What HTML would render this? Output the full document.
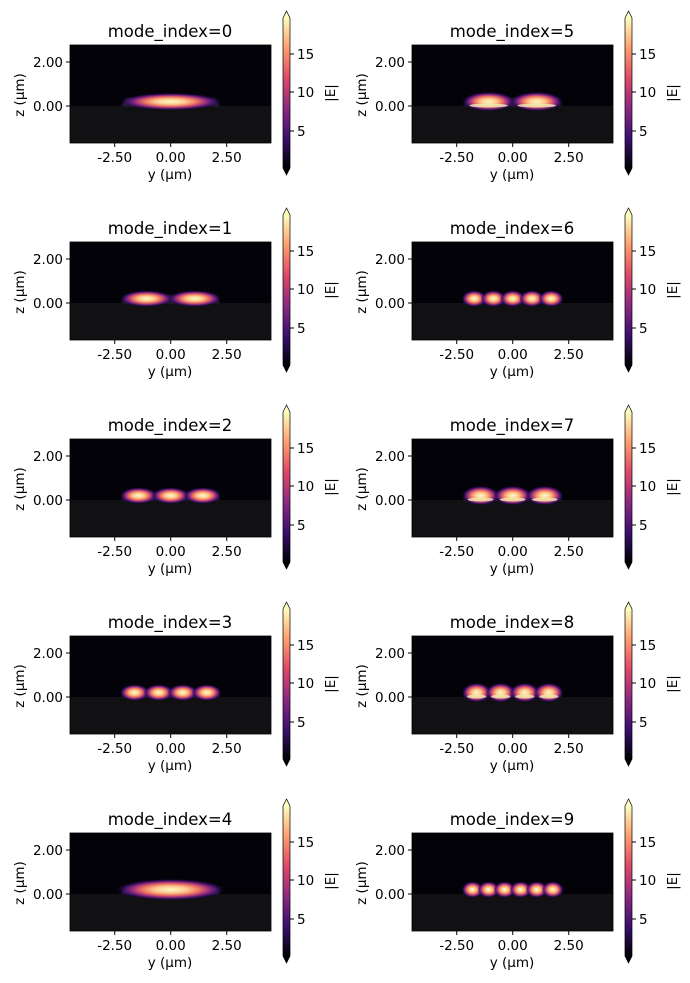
<!DOCTYPE html>
<html><head><meta charset="utf-8"><style>
body{margin:0;background:#fff;}
svg{display:block;font-family:"DejaVu Sans","Liberation Sans",sans-serif;}
</style></head><body>
<svg id="s" width="690" height="983" xmlns="http://www.w3.org/2000/svg">
<defs>
<linearGradient id="cb" x1="0" y1="1" x2="0" y2="0">
<stop offset="0" stop-color="#000004"/><stop offset="0.2" stop-color="#3b0f70"/>
<stop offset="0.4" stop-color="#8c2981"/><stop offset="0.6" stop-color="#de4968"/>
<stop offset="0.8" stop-color="#fe9f6d"/><stop offset="1" stop-color="#fcfdbf"/>
</linearGradient>
<radialGradient id="lobe">
<stop offset="0" stop-color="#fcfdbf"/><stop offset="0.3" stop-color="#fcc890"/>
<stop offset="0.5" stop-color="#f07860"/><stop offset="0.68" stop-color="#a0307e"/>
<stop offset="0.85" stop-color="#3b0f70" stop-opacity="0.7"/><stop offset="1" stop-color="#000004" stop-opacity="0"/>
</radialGradient>
<filter id="bl"><feGaussianBlur stdDeviation="1.2"/></filter>
</defs>
</svg>
<script>
const s=document.getElementById('s');let h='';
const modes=[[1,0],[2,0],[3,0],[4,0],[1,1],[2,1],[5,0],[3,1],[4,1],[6,0]];
for(let i=0;i<10;i++){
 const col=i<5?0:1,row=i%5;
 const ox=col*342,oy=row*197;
 const L=70+ox,T=45+oy,W=201,H=98;
 const X=v=>L+100.7+v*22.4, Z=v=>T+61-v*22;
 h+=`<text x="${L+100}" y="${T-8}" font-size="16.5" text-anchor="middle" fill="#000">mode_index=${i}</text>`;
 h+=`<rect x="${L}" y="${T}" width="${W}" height="61" fill="#030208"/>`;
 h+=`<rect x="${L}" y="${T+61}" width="${W}" height="${H-61}" fill="#111113"/>`;
 const [n,bright]=modes[i];
 h+=`<polygon points="${X(-2.2)},${Z(0)} ${X(2.2)},${Z(0)} ${X(1.95)},${Z(0.35)} ${X(-1.95)},${Z(0.35)}" fill="#6a3a8a" opacity="0.6" filter="url(#bl)"/>`;
 if(n==1){
  const rx=bright?2.5:2.3;
  h+=`<ellipse cx="${X(0)}" cy="${Z(0.2)}" rx="${rx*22.4}" ry="${bright?11:9}" fill="url(#lobe)"/>`;
 } else {
  const sp=4.3/n;
  for(let k=0;k<n;k++){const c=-2.15+sp*(k+0.5);
   h+=`<ellipse cx="${X(c)}" cy="${Z(0.2)}" rx="${sp*0.5*22.4+3}" ry="${bright?10:8.5}" fill="url(#lobe)"/>`;
   if(bright)h+=`<ellipse cx="${X(c)}" cy="${Z(0.02)}" rx="${sp*0.4*22.4}" ry="2" fill="#f0eeb0" opacity="0.8"/>`;}
 }
 h+=`<rect x="${L}" y="${T}" width="${W}" height="${H}" fill="none" stroke="#000" stroke-width="0.8"/>`;
 [[2,'2.00'],[0,'0.00']].forEach(([v,t])=>{const y=Z(v);h+=`<line x1="${L-4}" y1="${y}" x2="${L}" y2="${y}" stroke="#000"/><text x="${L-7}" y="${y+5}" font-size="13.5" text-anchor="end" fill="#000">${t}</text>`;});
 [[-2.5,'-2.50'],[0,'0.00'],[2.5,'2.50']].forEach(([v,t])=>{const x=X(v);h+=`<line x1="${x}" y1="${T+H}" x2="${x}" y2="${T+H+4}" stroke="#000"/><text x="${x}" y="${T+H+19}" font-size="13.5" text-anchor="middle" fill="#000">${t}</text>`;});
 h+=`<text x="${L+100}" y="${T+H+36}" font-size="13.5" text-anchor="middle" fill="#000">y (µm)</text>`;
 h+=`<text transform="translate(${L-46},${Z(0.5)}) rotate(-90)" font-size="13.5" text-anchor="middle" fill="#000">z (µm)</text>`;
 const cx=283+ox,ct=18+oy,cb=168+oy;
 h+=`<rect x="${cx}" y="${ct}" width="7" height="${cb-ct}" fill="url(#cb)"/>`;
 h+=`<polygon points="${cx},${ct} ${cx+3.5},${ct-7} ${cx+7},${ct}" fill="#fcfdbf"/>`;
 h+=`<polygon points="${cx},${cb} ${cx+3.5},${cb+7} ${cx+7},${cb}" fill="#000004"/>`;
 h+=`<path d="M${cx},${ct} L${cx+3.5},${ct-7} L${cx+7},${ct} L${cx+7},${cb} L${cx+3.5},${cb+7} L${cx},${cb} Z" fill="none" stroke="#000" stroke-width="0.7"/>`;
 [[15,54],[10,92],[5,131]].forEach(([v,y])=>{y+=oy;h+=`<line x1="${cx+7}" y1="${y}" x2="${cx+11}" y2="${y}" stroke="#000"/><text x="${cx+14}" y="${y+5}" font-size="13.5" fill="#000">${v}</text>`;});
 h+=`<text transform="translate(${cx+52},${93+oy}) rotate(-90)" font-size="13.5" text-anchor="middle" fill="#000">|E|</text>`;
}
s.insertAdjacentHTML('beforeend',h);
</script>
</body></html>
